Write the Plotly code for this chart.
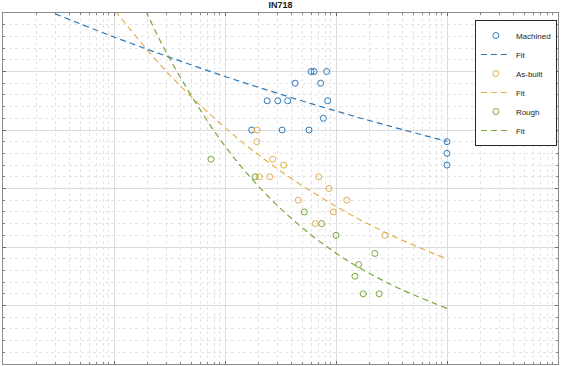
import plotly.graph_objects as go

# ---- data (cycles, stress) ----
machined_N = [5.96e5, 6.34e5, 8.24e5, 4.28e5, 7.28e5, 2.40e5, 2.99e5, 3.67e5, 8.41e5,
              7.69e5, 1.74e5, 3.27e5, 5.71e5, 1e7, 1e7, 1e7]
machined_S = [1000, 1000, 1000, 960, 960, 900, 900, 900, 900,
              840, 800, 800, 800, 760, 720, 680]

asbuilt_N = [1.95e5, 1.93e5, 2.69e5, 3.38e5, 2.04e5, 2.53e5, 6.98e5, 8.65e5, 4.57e5,
             1.25e6, 9.46e5, 6.52e5, 2.76e6]
asbuilt_S = [800, 760, 700, 680, 640, 640, 640, 600, 560,
             560, 520, 480, 440]

rough_N = [7.48e4, 1.87e5, 5.18e5, 7.43e5, 1.0e6, 2.24e6, 1.60e6, 1.48e6, 1.76e6, 2.45e6]
rough_S = [700, 640, 520, 480, 440, 378, 340, 300, 240, 240]

# fit curves
machined_fit_N = [2e3, 1e4, 3e4, 1e5, 3e5, 1e6, 3e6, 1e7]
machined_fit_S = [1223, 1118, 1052, 983, 925, 865, 814, 761]

asbuilt_fit_N = [8e3, 1e4, 3e4, 1e5, 3e5, 1e6, 3e6, 1e7]
asbuilt_fit_S = [1260, 1212, 998, 808, 666, 539, 444, 359]

rough_fit_N = [1.5e4, 3e4, 1e5, 3e5, 1e6, 3e6, 1e7]
rough_fit_S = [1301, 1061, 745, 540, 379, 275, 190]

blue = "#2E78B8"
gold = "#E3AE4A"
green = "#77A83A"

fig = go.Figure()

def add_series(N, S, fN, fS, name, color):
    fig.add_trace(go.Scatter(x=N, y=S, mode="markers", name=name,
                             marker=dict(symbol="circle-open", size=6, color=color,
                                         line=dict(width=1, color=color))))
    fig.add_trace(go.Scatter(x=fN, y=fS, mode="lines", name="Fit",
                             line=dict(color=color, width=1.2, dash="6px,4px", shape="spline")))

add_series(machined_N, machined_S, machined_fit_N, machined_fit_S, "Machined", blue)
add_series(asbuilt_N, asbuilt_S, asbuilt_fit_N, asbuilt_fit_S, "As-built", gold)
add_series(rough_N, rough_S, rough_fit_N, rough_fit_S, "Rough", green)

axis_common = dict(
    showline=True, linecolor="#8c8c8c", linewidth=1, mirror="ticks",
    ticks="inside", ticklen=3, tickcolor="#666666",
    showticklabels=False, zeroline=False,
    showgrid=True, gridcolor="#dcdcdc", gridwidth=1,
)

fig.update_xaxes(type="log", range=[3, 8], dtick=1,
                 minor=dict(dtick="D1", showgrid=True, gridcolor="#e4e4e4",
                            griddash="dot", ticks="inside", ticklen=2, tickcolor="#888888"),
                 **axis_common)
fig.update_yaxes(range=[0, 1200], dtick=200,
                 minor=dict(dtick=40, showgrid=True, gridcolor="#e4e4e4",
                            griddash="dot", ticks="inside", ticklen=2, tickcolor="#888888"),
                 **axis_common)

fig.update_layout(
    width=561, height=366,
    margin=dict(l=3, r=3, t=13, b=2),
    paper_bgcolor="white", plot_bgcolor="white",
    font=dict(family="Liberation Sans, Arial, sans-serif", size=8, color="#262626"),
    title=dict(text="<b>IN718</b>", x=0.5, xanchor="center", y=0.995, yanchor="top",
               font=dict(size=9, color="#1a1a1a")),
    legend=dict(x=0.998, y=0.98, xanchor="right", yanchor="top",
                bgcolor="white", bordercolor="#262626", borderwidth=1,
                font=dict(size=8), itemwidth=30, tracegroupgap=0),
    showlegend=True,
)

fig.write_html("out.html",
               config={"displayModeBar": False},
               post_script="document.body.style.margin='0';document.body.style.padding='0';")
